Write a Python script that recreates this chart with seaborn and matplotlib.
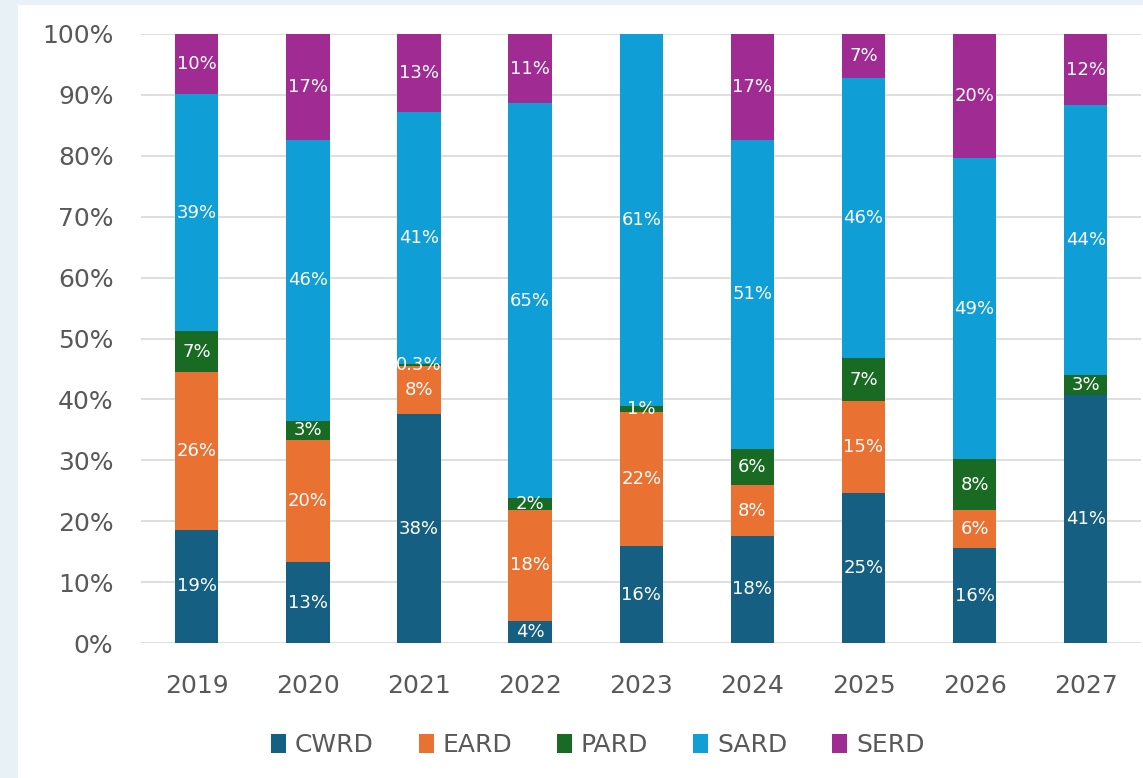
import matplotlib.pyplot as plt
import numpy as np
import pandas as pd
import seaborn as sns
from matplotlib.patches import Patch, Rectangle

years = ['2019', '2020', '2021', '2022', '2023', '2024', '2025', '2026', '2027']
groups = ['CWRD', 'EARD', 'PARD', 'SARD', 'SERD']

cwrd = [18.6, 13.3, 37.6, 3.6, 15.9, 17.6, 24.6, 15.6, 40.7]
eard = [25.9, 20.0, 7.9, 18.3, 22.0, 8.3, 15.1, 6.2, 0.0]
pard = [6.7, 3.2, 0.3, 1.9, 1.0, 6.0, 7.1, 8.4, 3.3]
sard = [38.9, 46.1, 41.4, 64.8, 61.1, 50.7, 46.0, 49.4, 44.3]
serd = [9.9, 17.4, 12.8, 11.4, 0.0, 17.4, 7.2, 20.4, 11.7]

colors = ['#156082', '#E97132', '#196B24', '#0F9ED5', '#A02B93']


def pct_label(v):
    if v < 1:
        return f'{v:.1f}%'
    return f'{v:.0f}%'


def run():
    df = pd.DataFrame({'year': years, 'CWRD': cwrd, 'EARD': eard,
                       'PARD': pard, 'SARD': sard, 'SERD': serd})
    shares = df[groups].div(df[groups].sum(axis=1), axis=0) * 100
    cum = shares.cumsum(axis=1)

    fig = plt.figure(figsize=(11.43, 7.78), dpi=100)
    fig.patch.set_facecolor('#e8f2f6')
    fig.patches.append(Rectangle((18 / 1143, 0), 1, 1 - 5 / 778,
                                 transform=fig.transFigure,
                                 facecolor='white', edgecolor='none',
                                 zorder=-10))
    ax = fig.add_axes([0.1235, 0.1735, 0.875, 0.7828])
    ax.set_facecolor('white')

    # stacked bars: draw cumulative totals from the top group down
    for name, color in reversed(list(zip(groups, colors))):
        sns.barplot(ax=ax, x=df['year'], y=cum[name], color=color,
                    saturation=1, width=0.39, linewidth=0, zorder=2)

    # segment labels
    for i in range(len(years)):
        for name in groups:
            v = df.loc[i, name]
            if v <= 0:
                continue
            mid = cum.loc[i, name] - shares.loc[i, name] / 2
            ax.text(i, mid, pct_label(v), ha='center', va='center',
                    color='white', fontsize=13, zorder=3)

    ax.set_ylim(0, 100)
    ax.set_xlim(-0.5, len(years) - 0.5)
    ax.set_yticks(np.arange(0, 101, 10))
    ax.set_yticklabels([f'{t}%' for t in range(0, 101, 10)])
    ax.yaxis.grid(True, color='#d9d9d9', linewidth=1.2, zorder=0)
    ax.set_axisbelow(True)
    for side in ['top', 'right', 'left', 'bottom']:
        ax.spines[side].set_visible(False)
    ax.tick_params(axis='both', length=0, labelsize=18, colors='#595959')
    ax.tick_params(axis='y', pad=20)
    ax.tick_params(axis='x', pad=22)
    ax.set_xlabel('')
    ax.set_ylabel('')

    handles = [Patch(facecolor=c, edgecolor='none', label=g)
               for g, c in zip(groups, colors)]
    fig.legend(handles=handles, loc='center', ncol=5,
               bbox_to_anchor=(0.523, 0.042), frameon=False,
               fontsize=18, labelcolor='#595959', handlelength=0.6,
               handleheight=0.8, handletextpad=0.35, columnspacing=1.8)

    fig.savefig('out.png', dpi=100, facecolor=fig.get_facecolor())


if __name__ == '__main__':
    run()
